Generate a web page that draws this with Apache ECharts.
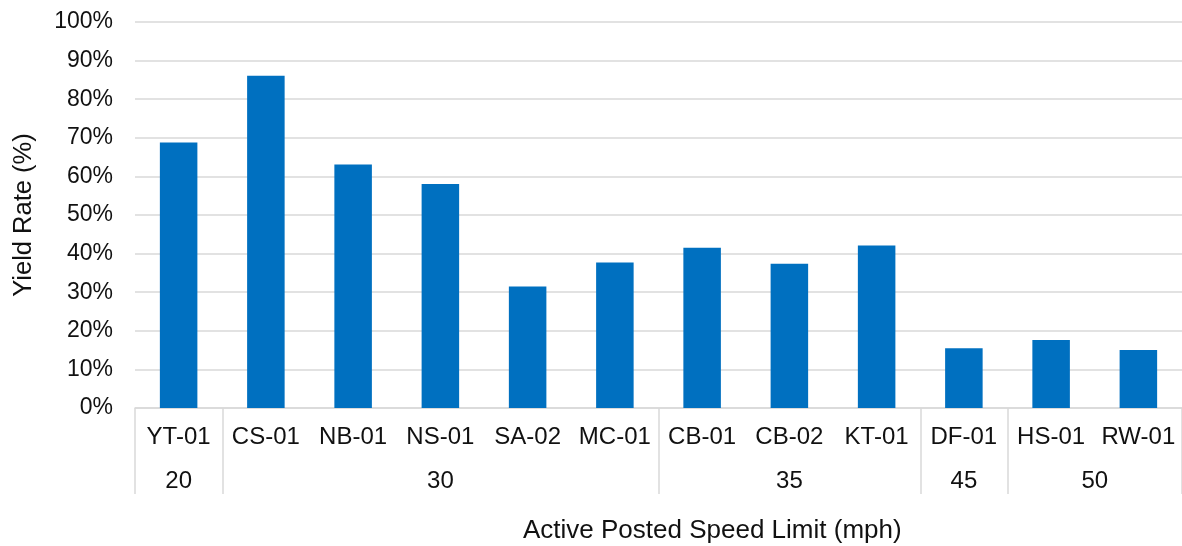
<!DOCTYPE html>
<html>
<head>
<meta charset="utf-8">
<script src="https://cdn.jsdelivr.net/npm/echarts@6/dist/echarts.min.js"></script>
<style>
html,body{margin:0;padding:0;background:#fff;}
#chart{width:1182px;height:546px;}
</style>
</head>
<body>
<div id="chart"></div>
<script>
const sites = ['YT-01','CS-01','NB-01','NS-01','SA-02','MC-01','CB-01','CB-02','KT-01','DF-01','HS-01','RW-01'];
const yieldRate = [68.8, 86.1, 63.1, 58.0, 31.5, 37.7, 41.5, 37.4, 42.1, 15.5, 17.6, 15.0];
const speedGroups = ['20','30','35','45','50'];
const groupSizes = [1, 5, 3, 1, 2];
const yTicks = [0,10,20,30,40,50,60,70,80,90,100];

// group boundaries and centers (in category units)
const bounds = [0];
groupSizes.forEach(s => bounds.push(bounds[bounds.length-1] + s));
const centers = speedGroups.map((g,i) => (bounds[i] + bounds[i+1]) / 2);

const FONT = '"Liberation Sans", Arial, sans-serif';
const TXT = '#111111';
const GRID = '#D9D9D9';

const chart = echarts.init(document.getElementById('chart'), null, {renderer:'canvas'});
chart.setOption({
  animation: false,
  backgroundColor: '#ffffff',
  grid: {left: 135, right: -7, top: 22, bottom: 138, containLabel: false},
  xAxis: [
    {
      type: 'category',
      data: sites,
      position: 'bottom',
      axisLine: {show: true, lineStyle: {color: GRID, width: 1.5}},
      axisTick: {show: false},
      axisLabel: {color: TXT, fontFamily: FONT, fontSize: 24, margin: 17, interval: 0},
      splitLine: {show: false}
    },
    {
      type: 'value',
      min: 0,
      max: sites.length,
      position: 'bottom',
      axisLine: {show: false},
      axisTick: {show: true, customValues: bounds, length: 86, lineStyle: {color: GRID, width: 1.5}},
      axisLabel: {
        show: true,
        customValues: centers,
        color: TXT, fontFamily: FONT, fontSize: 24, margin: 61,
        formatter: function (v) {
          const i = centers.findIndex(c => Math.abs(c - v) < 1e-6);
          return i >= 0 ? speedGroups[i] : '';
        }
      },
      splitLine: {show: false}
    }
  ],
  yAxis: {
    type: 'value',
    min: 0,
    max: 100,
    interval: 10,
    name: 'Yield Rate (%)',
    nameLocation: 'middle',
    nameGap: 98,
    nameRotate: 90,
    nameTextStyle: {color: TXT, fontFamily: FONT, fontSize: 25.5},
    axisLine: {show: false},
    axisTick: {show: false},
    axisLabel: {color: TXT, fontFamily: FONT, fontSize: 23, margin: 22, formatter: '{value}%'},
    splitLine: {show: true, lineStyle: {color: GRID, width: 1.5}}
  },
  graphic: [
    {
      type: 'text',
      left: 523,
      top: 518,
      style: {text: 'Active Posted Speed Limit (mph)', fill: TXT, font: '26px ' + FONT}
    }
  ],
  series: [
    {
      type: 'bar',
      xAxisIndex: 0,
      data: yieldRate,
      barWidth: '43%',
      itemStyle: {color: '#0070C0'}
    }
  ]
});
</script>
</body>
</html>
